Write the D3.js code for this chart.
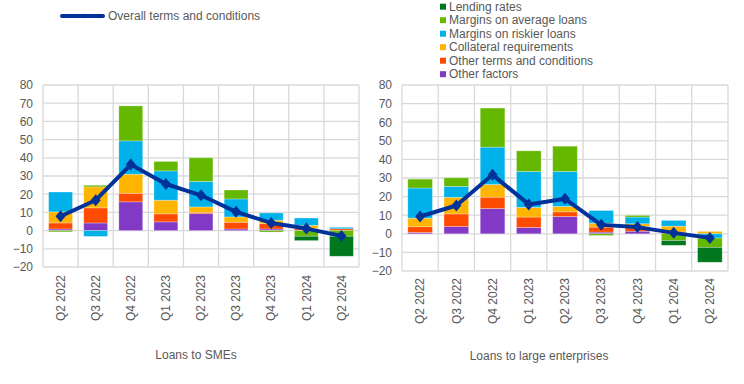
<!DOCTYPE html>
<html>
<head>
<meta charset="utf-8">
<script src="https://cdn.jsdelivr.net/npm/d3@7"></script>
<style>
body { margin: 0; background: #fff; }
svg { display: block; font-family: "Liberation Sans", Arial, sans-serif; }
</style>
</head>
<body>
<svg id="chart" width="744" height="384"></svg>
<script>
const categories = ["Q2 2022","Q3 2022","Q4 2022","Q1 2023","Q2 2023","Q3 2023","Q4 2023","Q1 2024","Q2 2024"];
const yTicks = [-20,-10,0,10,20,30,40,50,60,70,80];

const seriesNames = ["Lending rates","Margins on average loans","Margins on riskier loans","Collateral requirements","Other terms and conditions","Other factors"];
const seriesColors = ["#00781e","#65b800","#00b1ea","#ffb400","#ff4b00","#8139c6"];
const lineName = "Overall terms and conditions";

// Loans to SMEs
const smeLendingRates = [0, 0, 0, 0, 0, 0, 0, -2.4, -11.0];
const smeAvgMargins   = [-0.7, 0.9, 19.2, 5.2, 13.0, 4.9, -0.8, -3.1, -3.1];
const smeRiskyMargins = [10.9, -3.2, 18.3, 16.1, 14.0, 9.9, 4.0, 4.0, 0.8];
const smeCollateral   = [6.1, 11.5, 10.5, 7.5, 3.0, 2.9, 1.9, 1.8, 0];
const smeOtherTerms   = [3.3, 8.3, 4.7, 4.4, 0.7, 3.7, 2.9, 0.9, 1.0];
const smeOtherFactors = [0.9, 4.2, 15.8, 4.8, 9.3, 0.9, 0.9, 0.2, 0];
const smeOverall      = [7.9, 16.7, 36.3, 25.6, 19.4, 10.3, 4.2, 1.1, -2.9];

// Loans to large enterprises
const largeLendingRates = [0, 0, 0, 0, 0, 0, 0, -2.6, -8.0];
const largeAvgMargins   = [4.8, 4.6, 21.0, 11.1, 13.6, -0.9, 0.9, -3.6, -5.0];
const largeRiskyMargins = [16.2, 5.9, 20.1, 19.3, 18.8, 6.8, 3.6, 3.1, -2.3];
const largeCollateral   = [4.6, 8.9, 6.8, 5.2, 2.9, 2.1, 1.5, 3.2, 1.3];
const largeOtherTerms   = [3.1, 6.8, 6.1, 5.6, 2.5, 2.7, 2.5, 0.9, 0];
const largeOtherFactors = [0.7, 3.9, 13.6, 3.4, 9.3, 0.9, 1.4, 0, 0];
const largeOverall      = [9.3, 15.2, 31.7, 15.8, 18.8, 4.8, 3.6, 0.5, -2.2];

const svg = d3.select("#chart");
const textColor = "#595959";
const gridColor = "#d9d9d9";

// diamond symbol: half-width 5, half-height 6 at default size
const diamondType = {
  draw(ctx, size) {
    const w = Math.sqrt(size) / 2, h = w * 1.2;
    ctx.moveTo(0, -h); ctx.lineTo(w, 0); ctx.lineTo(0, h); ctx.lineTo(-w, 0); ctx.closePath();
  }
};

function drawPanel(cfg) {
  const {x0, x1, yTop, yBot, series, overall, title, titleX, titleY, labelGap} = cfg;
  const x = d3.scaleBand().domain(categories).range([x0, x1]).paddingInner(0.32).paddingOuter(0.16);
  const xb = d3.scaleBand().domain(categories).range([x0, x1]);
  const y = d3.scaleLinear().domain([-20, 80]).range([yBot, yTop]);
  const g = svg.append("g");

  g.append("g").selectAll("line").data(yTicks).join("line")
    .attr("x1", x0).attr("x2", x1)
    .attr("y1", d => y(d)).attr("y2", d => y(d))
    .attr("stroke", gridColor).attr("stroke-width", 1.3);
  const vb = categories.map(c => xb(c)).concat([x1]);
  g.append("g").selectAll("line").data(vb).join("line")
    .attr("x1", d => d).attr("x2", d => d)
    .attr("y1", yTop).attr("y2", yBot)
    .attr("stroke", gridColor).attr("stroke-width", 1.3);

  const yAxis = d3.axisLeft(y).tickValues(yTicks).tickSize(0).tickPadding(0);
  const ya = g.append("g").attr("transform", `translate(${x0 - 10},0)`).call(yAxis);
  ya.select(".domain").remove();
  ya.selectAll("text").attr("fill", textColor).style("font-size", "12px")
    .style("font-family", "'Liberation Sans', Arial, sans-serif");

  const xAxis = d3.axisBottom(xb).tickSize(0).tickPadding(0);
  const xa = g.append("g").attr("transform", `translate(0,${yBot})`).call(xAxis);
  xa.select(".domain").remove();
  xa.selectAll("text")
    .attr("fill", textColor).style("font-size", "12px")
    .style("font-family", "'Liberation Sans', Arial, sans-serif")
    .attr("text-anchor", "end")
    .attr("transform", `translate(0,${labelGap}) rotate(-90)`)
    .attr("x", 0).attr("y", 0).attr("dy", "0.35em");

  const keys = [5,4,3,2,1,0];
  const rows = categories.map((c, i) => {
    const r = {cat: c};
    keys.forEach(k => r[k] = series[k][i]);
    return r;
  });
  const stack = d3.stack().keys(keys).offset(d3.stackOffsetDiverging).order(d3.stackOrderNone);
  const stacked = stack(rows);
  const bars = g.append("g");
  stacked.forEach(layer => {
    bars.append("g").attr("fill", seriesColors[layer.key])
      .selectAll("rect").data(layer.filter(d => d[1] - d[0] !== 0)).join("rect")
      .attr("x", d => x(d.data.cat))
      .attr("width", x.bandwidth())
      .attr("y", d => y(Math.max(d[0], d[1])))
      .attr("height", d => Math.abs(y(d[0]) - y(d[1])))
      .attr("stroke", "#ffffff").attr("stroke-opacity", 0.35).attr("stroke-width", 0.8);
  });

  const line = d3.line().x((d, i) => xb(categories[i]) + xb.bandwidth() / 2).y(d => y(d));
  g.append("path").datum(overall).attr("d", line)
    .attr("fill", "none").attr("stroke", "#003299").attr("stroke-width", 4).attr("stroke-linejoin", "round");
  const diamond = d3.symbol().type(diamondType).size(100);
  g.append("g").selectAll("path").data(overall).join("path")
    .attr("d", diamond)
    .attr("transform", (d, i) => `translate(${xb(categories[i]) + xb.bandwidth() / 2},${y(d)})`)
    .attr("fill", "#003299");

  g.append("text").attr("x", titleX).attr("y", titleY)
    .attr("text-anchor", "middle").attr("fill", textColor)
    .style("font-size", "12px").style("font-family", "'Liberation Sans Narrow', 'Liberation Sans', Arial, sans-serif")
    .text(title);
}

drawPanel({
  x0: 43, x1: 359, yTop: 85, yBot: 267,
  series: [smeLendingRates, smeAvgMargins, smeRiskyMargins, smeCollateral, smeOtherTerms, smeOtherFactors],
  overall: smeOverall, title: "Loans to SMEs", titleX: 196, titleY: 359, labelGap: 8
});
drawPanel({
  x0: 402, x1: 728, yTop: 85, yBot: 271,
  series: [largeLendingRates, largeAvgMargins, largeRiskyMargins, largeCollateral, largeOtherTerms, largeOtherFactors],
  overall: largeOverall, title: "Loans to large enterprises", titleX: 539, titleY: 360, labelGap: 7
});

const lg = svg.append("g");
lg.append("line").attr("x1", 62).attr("x2", 103).attr("y1", 16).attr("y2", 16)
  .attr("stroke", "#003299").attr("stroke-width", 4).attr("stroke-linecap", "round");
lg.append("path").attr("d", d3.symbol().type(diamondType).size(16)).attr("transform", "translate(83,16)").attr("fill", "#003299");
lg.append("text").attr("x", 108).attr("y", 16).attr("dy", "0.35em")
  .attr("fill", textColor).style("font-size", "12px").text(lineName);

const rowY = [6.7, 20.2, 33.7, 47.2, 60.7, 74.2];
const lb = svg.append("g");
seriesNames.forEach((name, i) => {
  lb.append("rect").attr("x", 440).attr("y", rowY[i] - 3).attr("width", 6).attr("height", 6).attr("fill", seriesColors[i]);
  lb.append("text").attr("x", 449).attr("y", rowY[i]).attr("dy", "0.35em")
    .attr("fill", textColor).style("font-size", "12px").text(name);
});
</script>
</body>
</html>
